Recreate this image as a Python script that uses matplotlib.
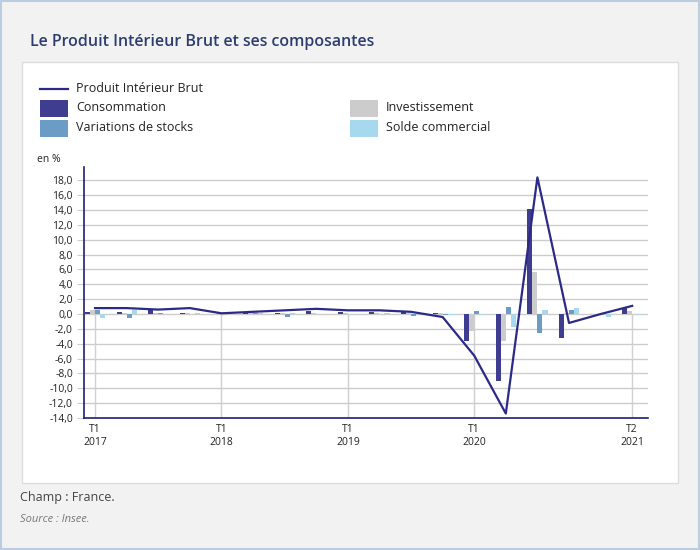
import matplotlib
matplotlib.use("Agg")
import matplotlib.pyplot as plt
import numpy as np
from matplotlib.patches import Rectangle
from matplotlib.lines import Line2D

plt.rcParams['font.family'] = ['Open Sans', 'DejaVu Sans']

# quarters 2017 T1 .. 2021 T2
tick_pos = [0, 4, 8, 12, 17]
tick_labels = ["T1\n2017", "T1\n2018", "T1\n2019", "T1\n2020", "T2\n2021"]

pib = [0.8, 0.8, 0.6, 0.8, 0.1, 0.3, 0.5, 0.7, 0.5, 0.5, 0.3, -0.4,
       -5.6, -13.4, 18.4, -1.2, 0.0, 1.1]
conso = [0.3, 0.3, 0.5, 0.2, 0.0, 0.1, 0.1, 0.4, 0.3, 0.3, 0.4, 0.1,
         -3.6, -9.0, 14.2, -3.2, 0.0, 0.8]
invest = [0.5, 0.1, 0.2, 0.2, 0.1, 0.1, 0.1, 0.1, 0.2, 0.2, 0.2, 0.2,
          -2.3, -3.6, 5.7, 0.1, 0.0, 0.4]
stocks = [0.5, -0.6, 0.1, 0.0, 0.1, 0.1, -0.4, 0.0, 0.0, 0.0, -0.3, -0.1,
          0.4, 0.9, -2.6, 0.6, 0.2, 0.0]
solde = [-0.6, 0.6, 0.0, 0.2, 0.0, 0.1, 0.1, 0.0, 0.0, 0.1, 0.0, -0.1,
         -0.1, -1.8, 0.6, 0.8, -0.4, -0.1]

c_pib = '#2b2a87'
c_conso = '#3f3d8f'
c_inv = '#cccccc'
c_stk = '#6a9cc6'
c_sol = '#a6d9ee'

W, H = 700, 550
fig = plt.figure(figsize=(7, 5.5), dpi=100)
fig.patch.set_facecolor('#f2f2f2')

def px(x, y):
    return x / W, 1 - y / H

# outer border and white panel (behind the axes)
fig.add_artist(Rectangle((0.001, 0.001), 0.998, 0.997, transform=fig.transFigure,
                         facecolor='none', edgecolor='#bccde0', lw=1.5, zorder=-10))
x0, y0 = px(22, 483)
fig.add_artist(Rectangle((x0, y0), 656 / W, 421 / H, transform=fig.transFigure,
                         facecolor='white', edgecolor='#dddddd', lw=1, zorder=-9))

fig.text(*px(30, 42), "Le Produit Intérieur Brut et ses composantes",
         fontsize=11.5, color='#2d3e6e', va='center', ha='left', fontweight='semibold')

# legend drawn by hand
lx, ly = px(40, 89)
fig.add_artist(Line2D([40 / W, 68 / W], [ly, ly], transform=fig.transFigure,
                      color=c_pib, lw=1.6))
fig.text(*px(76, 89), "Produit Intérieur Brut", fontsize=9, va='center', color='#222222')
entries = [(40, 108, c_conso, "Consommation"), (350, 108, c_inv, "Investissement"),
           (40, 128, c_stk, "Variations de stocks"), (350, 128, c_sol, "Solde commercial")]
for ex, ey, col, lab in entries:
    rx, ry = px(ex, ey + 8.5)
    fig.add_artist(Rectangle((rx, ry), 28 / W, 17 / H, transform=fig.transFigure,
                             facecolor=col, edgecolor='none'))
    fig.text(*px(ex + 36, ey), lab, fontsize=9, va='center', color='#222222')

fig.text(*px(37, 160), "en %", fontsize=7.5, va='center', color='#222222')

ax = fig.add_axes([84 / W, 1 - 418 / H, (648 - 84) / W, (418 - 167) / H])
ax.set_facecolor('white')

x = np.arange(len(pib))
w = 0.16
ax.bar(x - 1.5 * w, conso, w, color=c_conso, zorder=3)
ax.bar(x - 0.5 * w, invest, w, color=c_inv, zorder=3)
ax.bar(x + 0.5 * w, stocks, w, color=c_stk, zorder=3)
ax.bar(x + 1.5 * w, solde, w, color=c_sol, zorder=3)
ax.plot(x, pib, color=c_pib, lw=1.6, zorder=4)

ax.set_xlim(-0.35, 17.5)
ax.set_ylim(-14, 19.8)
yt = np.arange(-14, 19, 2)
ax.set_yticks(yt)
ax.set_yticklabels([f"{v:.1f}".replace('.', ',') for v in yt], fontsize=7.5, color='#222222')
ax.tick_params(axis='y', length=5, color='#cccccc', pad=3)
ax.yaxis.grid(True, color='#cccccc', lw=1, zorder=0)

ax.set_xticks(tick_pos)
ax.set_xticklabels(tick_labels, fontsize=7.5, color='#222222', linespacing=1.3)
ax.tick_params(axis='x', length=0, pad=4)
ax.vlines(tick_pos, -14, 0, color='#d0d0d0', lw=1, zorder=1)

for s in ['top', 'right']:
    ax.spines[s].set_visible(False)
ax.spines['left'].set_color('#1f1f6e')
ax.spines['bottom'].set_color('#1f1f6e')
ax.spines['left'].set_linewidth(1.2)
ax.spines['bottom'].set_linewidth(1.2)

fig.text(*px(20, 497), "Champ : France.", fontsize=9, va='center', color='#444444')
fig.text(*px(20, 519), "Source : Insee.", fontsize=8, va='center', color='#777777',
         style='italic')

fig.savefig("out.png", dpi=100, facecolor=fig.get_facecolor())
